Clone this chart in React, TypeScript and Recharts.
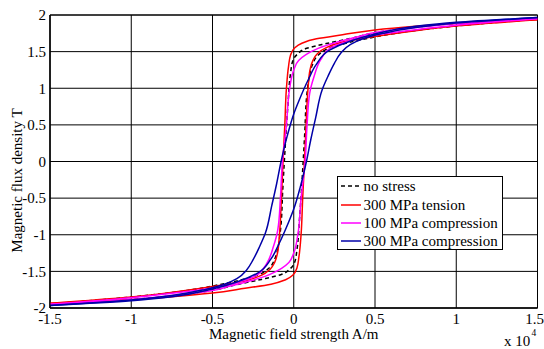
import { CartesianGrid, Legend, Line, LineChart, ReferenceArea, XAxis, YAxis } from "recharts";

type Point = [number, number];

const fieldTicks = [-1.5, -1, -0.5, 0, 0.5, 1, 1.5];
const fluxTicks = [-2, -1.5, -1, -0.5, 0, 0.5, 1, 1.5, 2];

const seriesNames = ["no stress", "300 MPa tension", "100 MPa compression", "300 MPa compression"];
const seriesColors = ["#000000", "#ff0000", "#ff00ff", "#0000a8"];
const seriesDashes = ["4 3", undefined, undefined, undefined];

// field strength (x 10^4 A/m), flux density (T); falling branch runs +H -> -H
const noStressFalling: Point[] = [
    [1.5, 1.945], [1.0, 1.885], [0.75, 1.835], [0.53, 1.77], [0.35, 1.68], [0.2, 1.61],
    [0.08, 1.545], [0.02, 1.46], [-0.005, 1.38], [-0.02, 1.2], [-0.035, 0.8], [-0.05, 0.3],
    [-0.058, 0], [-0.068, -0.4], [-0.08, -0.9], [-0.095, -1.15], [-0.115, -1.32], [-0.15, -1.45],
    [-0.22, -1.55], [-0.33, -1.62], [-0.5, -1.7], [-0.75, -1.79], [-1.0, -1.85], [-1.5, -1.945]
];
const noStressRising: Point[] = [
    [-1.5, -1.945], [-1.0, -1.885], [-0.75, -1.835], [-0.53, -1.77], [-0.35, -1.68], [-0.2, -1.61],
    [-0.08, -1.545], [-0.02, -1.46], [0.005, -1.38], [0.02, -1.2], [0.035, -0.8], [0.05, -0.3],
    [0.058, 0], [0.068, 0.4], [0.08, 0.9], [0.095, 1.15], [0.115, 1.32], [0.15, 1.45],
    [0.22, 1.55], [0.33, 1.62], [0.5, 1.7], [0.75, 1.79], [1.0, 1.85], [1.5, 1.945]
];

const tensionFalling: Point[] = [
    [1.5, 1.935], [1.0, 1.885], [0.75, 1.845], [0.5, 1.795], [0.3, 1.73], [0.14, 1.675],
    [0.05, 1.615], [0.005, 1.55], [-0.02, 1.45], [-0.032, 1.3], [-0.045, 1.0], [-0.055, 0.5],
    [-0.066, 0], [-0.076, -0.5], [-0.088, -1.0], [-0.1, -1.25], [-0.118, -1.38], [-0.145, -1.47],
    [-0.2, -1.555], [-0.3, -1.63], [-0.45, -1.69], [-0.6, -1.74], [-1.0, -1.85], [-1.5, -1.935]
];
const tensionRising: Point[] = [
    [-1.5, -1.935], [-1.0, -1.885], [-0.75, -1.845], [-0.5, -1.795], [-0.3, -1.73], [-0.14, -1.675],
    [-0.05, -1.615], [-0.005, -1.55], [0.02, -1.45], [0.032, -1.3], [0.045, -1.0], [0.055, -0.5],
    [0.066, 0], [0.076, 0.5], [0.088, 1.0], [0.1, 1.25], [0.118, 1.38], [0.145, 1.47],
    [0.2, 1.555], [0.3, 1.63], [0.45, 1.69], [0.6, 1.74], [1.0, 1.85], [1.5, 1.935]
];

const lowCompFalling: Point[] = [
    [1.5, 1.95], [1.0, 1.885], [0.75, 1.83], [0.51, 1.765], [0.39, 1.7], [0.26, 1.625],
    [0.15, 1.545], [0.075, 1.46], [0.03, 1.38], [0, 1.25], [-0.025, 1.0], [-0.045, 0.5],
    [-0.07, 0], [-0.082, -0.5], [-0.098, -0.93], [-0.125, -1.16], [-0.166, -1.39], [-0.227, -1.55],
    [-0.33, -1.64], [-0.45, -1.71], [-0.75, -1.8], [-1.0, -1.86], [-1.5, -1.95]
];
const lowCompRising: Point[] = [
    [-1.5, -1.95], [-1.0, -1.885], [-0.75, -1.83], [-0.51, -1.765], [-0.39, -1.7], [-0.26, -1.625],
    [-0.15, -1.545], [-0.075, -1.46], [-0.03, -1.38], [0, -1.25], [0.025, -1.0], [0.045, -0.5],
    [0.07, 0], [0.082, 0.5], [0.098, 0.93], [0.125, 1.16], [0.166, 1.39], [0.227, 1.55],
    [0.33, 1.64], [0.45, 1.71], [0.75, 1.8], [1.0, 1.86], [1.5, 1.95]
];

const highCompFalling: Point[] = [
    [1.5, 1.965], [1.0, 1.9], [0.75, 1.845], [0.5, 1.74], [0.35, 1.645], [0.22, 1.52],
    [0.14, 1.33], [0.09, 1.12], [0.03, 0.82], [0, 0.65], [-0.04, 0.35], [-0.078, 0],
    [-0.105, -0.3], [-0.135, -0.6], [-0.175, -0.98], [-0.21, -1.16], [-0.25, -1.34], [-0.29, -1.48],
    [-0.35, -1.6], [-0.43, -1.68], [-0.55, -1.75], [-0.75, -1.83], [-1.0, -1.89], [-1.5, -1.965]
];
const highCompRising: Point[] = [
    [-1.5, -1.965], [-1.0, -1.9], [-0.75, -1.845], [-0.5, -1.74], [-0.35, -1.645], [-0.22, -1.52],
    [-0.14, -1.33], [-0.09, -1.12], [-0.03, -0.82], [0, -0.65], [0.04, -0.35], [0.078, 0],
    [0.105, 0.3], [0.135, 0.6], [0.175, 0.98], [0.21, 1.16], [0.25, 1.34], [0.29, 1.48],
    [0.35, 1.6], [0.43, 1.68], [0.55, 1.75], [0.75, 1.83], [1.0, 1.89], [1.5, 1.965]
];

const loops = [
    [noStressFalling, noStressRising],
    [tensionFalling, tensionRising],
    [lowCompFalling, lowCompRising],
    [highCompFalling, highCompRising]
];

const FONT = "'Liberation Serif', 'DejaVu Serif', 'Times New Roman', serif";

const toRows = (points: Point[]) => points.map(([h, b]) => ({ h, b }));

function YTitle({ viewBox }: { viewBox?: { x: number; y: number; width: number; height: number } }) {
    if (!viewBox) return null;
    const cx = viewBox.x + 22;
    const cy = viewBox.y + viewBox.height / 2 + 19;
    return (
        <text
            x={cx}
            y={cy}
            transform={`rotate(-90 ${cx} ${cy})`}
            textAnchor="middle"
            fontSize={15}
            fontFamily={FONT}
            fill="#000"
        >
            Magnetic flux density T
        </text>
    );
}

function LegendBox() {
    return (
        <div
            style={{
                boxSizing: "border-box",
                width: 166,
                height: 74,
                border: "1px solid #000",
                background: "#fff",
                padding: "0 0 0 3px",
                fontFamily: FONT,
                fontSize: 15,
                color: "#000"
            }}
        >
            {seriesNames.map((name, i) => (
                <div key={name} style={{ display: "flex", alignItems: "center", height: 18.4, whiteSpace: "nowrap" }}>
                    <svg width={20} height={4} style={{ flexShrink: 0 }}>
                        <line
                            x1={0}
                            y1={2}
                            x2={20}
                            y2={2}
                            stroke={seriesColors[i]}
                            strokeWidth={1.5}
                            strokeDasharray={seriesDashes[i]}
                        />
                    </svg>
                    <span style={{ marginLeft: 2.5, lineHeight: "18px" }}>{name}</span>
                </div>
            ))}
        </div>
    );
}

export default function App() {
    return (
        <div style={{ position: "absolute", left: 0, top: 0, width: 544, height: 349, fontFamily: FONT, background: "#fff" }}>
            <LineChart width={544} height={349} margin={{ top: 15, right: 6.5, bottom: 0, left: 0 }}>
                <CartesianGrid stroke="#000" strokeWidth={1} />
                <XAxis
                    type="number"
                    dataKey="h"
                    domain={[-1.5, 1.5]}
                    ticks={fieldTicks}
                    allowDataOverflow
                    height={41}
                    tickLine={false}
                    tickSize={0}
                    tickMargin={5}
                    axisLine={{ stroke: "#000" }}
                    tick={{ fontSize: 15, fill: "#000", fontFamily: FONT }}
                    label={{
                        value: "Magnetic field strength A/m",
                        position: "insideBottom",
                        offset: 10.5,
                        fill: "#000",
                        fontSize: 15,
                        fontFamily: FONT
                    }}
                />
                <YAxis
                    type="number"
                    domain={[-2, 2]}
                    ticks={fluxTicks}
                    allowDataOverflow
                    width={50}
                    tickLine={false}
                    tickSize={0}
                    tickMargin={4}
                    axisLine={{ stroke: "#000" }}
                    tick={{ fontSize: 15, fill: "#000", fontFamily: FONT }}
                    label={<YTitle />}
                />
                <ReferenceArea x1={-1.5} x2={1.5} y1={-2} y2={2} fill="none" stroke="#000" strokeWidth={1} />
                {loops.map((branches, i) =>
                    branches.map((branch, j) => (
                        <Line
                            key={`${i}-${j}`}
                            data={toRows(branch)}
                            dataKey="b"
                            name={seriesNames[i]}
                            type="monotoneY"
                            stroke={seriesColors[i]}
                            strokeWidth={1.5}
                            strokeDasharray={seriesDashes[i]}
                            dot={false}
                            activeDot={false}
                            legendType={j === 0 ? "line" : "none"}
                            isAnimationActive={false}
                        />
                    ))
                )}
                <Legend
                    layout="vertical"
                    align="center"
                    verticalAlign="middle"
                    content={<LegendBox />}
                    wrapperStyle={{ left: 337, top: 176, width: 166, height: 74 }}
                />
            </LineChart>
            <svg
                width={544}
                height={349}
                style={{ position: "absolute", left: 0, top: 0, pointerEvents: "none" }}
            >
                <text x={504} y={346} fontSize={15} fontFamily={FONT} fill="#000">
                    x 10
                </text>
                <text x={531.5} y={335.5} fontSize={9.5} fontFamily={FONT} fill="#000">
                    4
                </text>
            </svg>
        </div>
    );
}
